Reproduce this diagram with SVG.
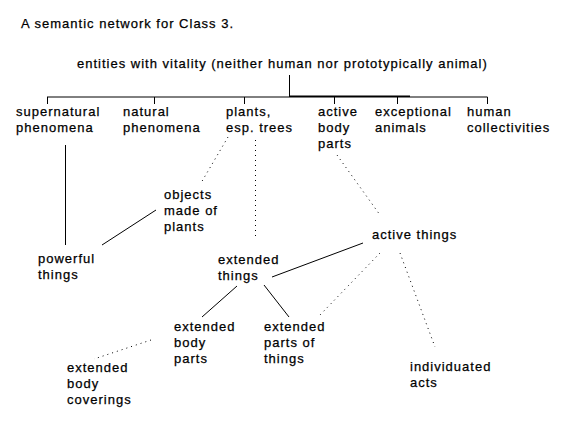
<svg xmlns="http://www.w3.org/2000/svg" width="566" height="423" viewBox="0 0 566 423">
<style>
text{font-family:"Liberation Sans",Arial,sans-serif;font-size:13px;letter-spacing:1px;fill:#000;stroke:#000;stroke-width:0.25px}
.s{stroke:#000;stroke-width:1;fill:none}
.d{stroke:#000;stroke-width:1;fill:none;stroke-dasharray:1 4}
</style>
<rect width="566" height="423" fill="#fff"/>
<text x="21" y="28">A semantic network for Class 3.</text>
<g id="root"><text x="77" y="68">entities with vitality (neither human nor prototypically animal)</text></g>
<g id="supernatural"><text x="16" y="116">supernatural</text><text x="16" y="132">phenomena</text></g>
<g id="natural"><text x="123" y="116">natural</text><text x="123" y="132">phenomena</text></g>
<g id="plants"><text x="226" y="116">plants,</text><text x="226" y="132">esp. trees</text></g>
<g id="active-body-parts"><text x="318" y="116">active</text><text x="318" y="132">body</text><text x="318" y="148">parts</text></g>
<g id="exceptional"><text x="375" y="116">exceptional</text><text x="375" y="132">animals</text></g>
<g id="human"><text x="467" y="116">human</text><text x="467" y="132">collectivities</text></g>
<g id="objects"><text x="164" y="199">objects</text><text x="164" y="215">made of</text><text x="164" y="231">plants</text></g>
<g id="powerful"><text x="38" y="263">powerful</text><text x="38" y="279">things</text></g>
<g id="extended-things"><text x="218" y="264">extended</text><text x="218" y="280">things</text></g>
<g id="active-things"><text x="372" y="239">active things</text></g>
<g id="ext-body-parts"><text x="174" y="331">extended</text><text x="174" y="347">body</text><text x="174" y="363">parts</text></g>
<g id="ext-parts-things"><text x="264" y="331">extended</text><text x="264" y="347">parts of</text><text x="264" y="363">things</text></g>
<g id="ext-body-coverings"><text x="67" y="372">extended</text><text x="67" y="388">body</text><text x="67" y="404">coverings</text></g>
<g id="individuated"><text x="410" y="371">individuated</text><text x="410" y="387">acts</text></g>
<g id="connectors">
<path class="s" d="M289.5 75V97"/>
<path class="s" d="M47 97H289"/>
<path d="M289 96.5H410" stroke="#000" stroke-width="2"/>
<path class="s" d="M410 97H487.5"/>
<path class="s" d="M47.5 97V104M154.5 97V104M244.5 97V104M334.5 97V104M397.5 97V104M487.5 97V104"/>
<path class="s" d="M65.5 145V245"/>
<path class="s" d="M156 210L102 245"/>
<path class="d" d="M228 137L201 183"/>
<path class="d" d="M255.5 140V238"/>
<path class="d" d="M337 155L380 215"/>
<path class="s" d="M363 243L272 277"/>
<path class="s" d="M237 286L202 317"/>
<path class="s" d="M264 285L289 317"/>
<path class="d" d="M380 253L320 315"/>
<path class="d" d="M400 253L435 347"/>
<path class="d" d="M151 340L94 359"/>
</g>
</svg>
